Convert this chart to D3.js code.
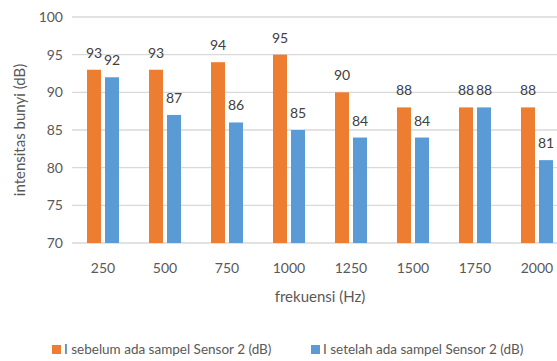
<!DOCTYPE html>
<html>
<head>
<meta charset="utf-8">
<script src="https://cdn.jsdelivr.net/npm/d3@7"></script>
<style>
  html, body { margin: 0; padding: 0; background: #fff; overflow: hidden; }
  svg text { font-family: Lato, "Open Sans", sans-serif; }
</style>
</head>
<body>
<svg id="chart" width="557" height="361"></svg>
<script>
// Frequency categories (Hz)
const categories = ["250", "500", "750", "1000", "1250", "1500", "1750", "2000"];
// Sound intensity before and after the sample, Sensor 2 (dB)
const before = [93, 93, 94, 95, 90, 88, 88, 88];
const after = [92, 87, 86, 85, 84, 84, 88, 81];
const seriesNames = ["I sebelum ada sampel Sensor 2 (dB)", "I setelah ada sampel Sensor 2 (dB)"];
const yTicks = [70, 75, 80, 85, 90, 95, 100];

const colors = ["#ED7D31", "#5B9BD5"];
const svg = d3.select("#chart");

const plot = { left: 72, right: 568, top: 17, bottom: 243 };

const x = d3.scaleBand().domain(categories).range([plot.left, plot.right]);
const y = d3.scaleLinear().domain([70, 100]).range([plot.bottom, plot.top]);

// gridlines
svg.append("g").selectAll("line").data(yTicks).join("line")
  .attr("x1", plot.left).attr("x2", plot.right)
  .attr("y1", d => y(d)).attr("y2", d => y(d))
  .attr("stroke", "#D9D9D9").attr("stroke-width", 1.3);

// y tick labels
svg.append("g").selectAll("text").data(yTicks).join("text")
  .attr("x", 63).attr("y", d => y(d)).attr("dy", "0.35em")
  .attr("text-anchor", "end").attr("font-size", 14).attr("fill", "#595959")
  .text(d => d);

// x tick labels
svg.append("g").selectAll("text").data(categories).join("text")
  .attr("x", d => x(d) + x.bandwidth() / 2).attr("y", 273)
  .attr("text-anchor", "middle").attr("font-size", 14).attr("fill", "#595959")
  .text(d => d);

const barW = 14, gap = 4;
const series = [before, after];
series.forEach((vals, si) => {
  const offset = si === 0 ? -(gap / 2 + barW) : gap / 2;
  const g = svg.append("g");
  g.selectAll("rect").data(vals).join("rect")
    .attr("x", (d, i) => x(categories[i]) + x.bandwidth() / 2 + offset)
    .attr("width", barW)
    .attr("y", d => y(d))
    .attr("height", d => y(70) - y(d))
    .attr("fill", colors[si]);
  g.selectAll("text").data(vals).join("text")
    .attr("x", (d, i) => x(categories[i]) + x.bandwidth() / 2 + offset + barW / 2)
    .attr("y", d => y(d) - 12)
    .attr("text-anchor", "middle").attr("font-size", 14).attr("fill", "#404040")
    .text(d => d);
});

// axis titles
svg.append("text")
  .attr("x", 320).attr("y", 302).attr("text-anchor", "middle")
  .attr("font-size", 15).attr("fill", "#595959")
  .text("frekuensi (Hz)");
svg.append("text")
  .attr("transform", `translate(25,${(plot.top + plot.bottom) / 2}) rotate(-90)`)
  .attr("text-anchor", "middle").attr("font-size", 15).attr("fill", "#595959")
  .text("intensitas bunyi (dB)");

// legend
const legendItems = [
  { x: 52, text: seriesNames[0], color: colors[0] },
  { x: 311, text: seriesNames[1], color: colors[1] }
];
const lg = svg.append("g");
legendItems.forEach(it => {
  lg.append("rect").attr("x", it.x).attr("y", 345).attr("width", 9).attr("height", 9).attr("fill", it.color);
  lg.append("text").attr("x", it.x + 12).attr("y", 354)
    .attr("font-size", 13.5).attr("fill", "#595959").text(it.text);
});
</script>
</body>
</html>
